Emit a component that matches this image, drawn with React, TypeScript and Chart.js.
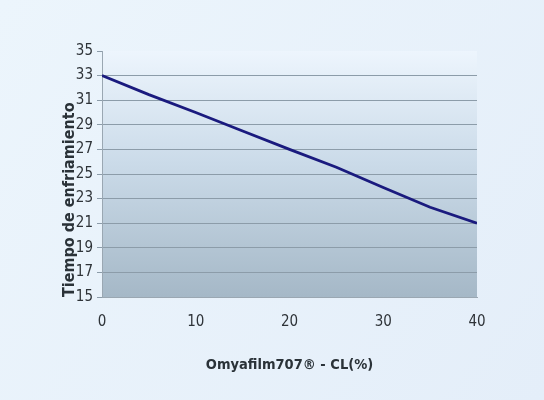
import React, { useEffect, useRef } from "react";
import { Chart, registerables } from "chart.js";

Chart.register(...registerables);

const xValues: number[] = [0, 5, 10, 15, 20, 25, 30, 35, 40];
const coolingTime: number[] = [33, 31.45, 30.0, 28.5, 27.0, 25.55, 23.9, 22.3, 21];
const xTitle = "Omyafilm707® - CL(%)";
const yTitle = "Tiempo de enfriamiento";

const FONT = "'DejaVu Sans Condensed', 'Liberation Sans', sans-serif";

const backgroundPlugin = {
  id: "bgPlugin",
  beforeDraw(chart: any) {
    const { ctx, width, height, chartArea } = chart;
    ctx.save();
    const g = ctx.createLinearGradient(0, 0, width, height);
    g.addColorStop(0, "#ecf5fc");
    g.addColorStop(1, "#e4eef9");
    ctx.fillStyle = g;
    ctx.fillRect(0, 0, width, height);
    const { left, right, top, bottom } = chartArea;
    const pg = ctx.createLinearGradient(0, top, 0, bottom);
    pg.addColorStop(0, "#edf5fd");
    pg.addColorStop(0.45, "#cbdbe9");
    pg.addColorStop(1, "#a5b8c7");
    ctx.fillStyle = pg;
    ctx.fillRect(left, top, right - left, bottom - top);
    ctx.restore();
  },
};

export default function App() {
  const ref = useRef<HTMLCanvasElement | null>(null);
  useEffect(() => {
    document.body.style.margin = "0";
    if (!ref.current) return;
    const chart = new Chart(ref.current, {
      type: "line",
      data: {
        datasets: [
          {
            data: xValues.map((x, i) => ({ x, y: coolingTime[i] })),
            borderColor: "#1a1a7e",
            borderWidth: 2.8,
            pointRadius: 0,
            tension: 0,
            fill: false,
          },
        ],
      },
      options: {
        responsive: false,
        animation: false,
        layout: { padding: { top: 51, right: 67, left: 0, bottom: 0 } },
        plugins: { legend: { display: false }, tooltip: { enabled: false } },
        scales: {
          x: {
            type: "linear",
            min: 0,
            max: 40,
            afterFit: (s: any) => { s.height = 103; },
            ticks: { stepSize: 10, color: "#2e3338", padding: 16, font: { family: FONT, size: 15 } },
            grid: { display: false, drawTicks: false },
            border: { display: true, color: "#9aa7b2", width: 1 },
            title: {
              display: true,
              text: xTitle,
              color: "#2a3238",
              font: { family: FONT, size: 14.5, weight: "bold" },
              padding: { top: 0, bottom: 26 },
            },
          },
          y: {
            min: 15,
            max: 35,
            afterFit: (s: any) => { s.width = 102; },
            ticks: { stepSize: 2, color: "#2e3338", padding: 4, font: { family: FONT, size: 15 } },
            grid: {
              color: (c: any) => (c.tick && c.tick.value === 35 ? "rgba(0,0,0,0)" : "#8c9ca9"),
              tickColor: "#8c9ca9",
              tickLength: 5,
              lineWidth: 1,
            },
            border: { display: true, color: "#9aa7b2", width: 1 },
            title: {
              display: true,
              text: yTitle,
              align: "start",
              color: "#2a3238",
              font: { family: FONT, size: 16, weight: "bold" },
              padding: { top: 60, bottom: 0 },
            },
          },
        },
      },
      plugins: [backgroundPlugin],
    } as any);
    return () => chart.destroy();
  }, []);
  return (
    <div style={{ width: 544, height: 400 }}>
      <canvas ref={ref} width={544} height={400} style={{ display: "block" }} />
    </div>
  );
}
